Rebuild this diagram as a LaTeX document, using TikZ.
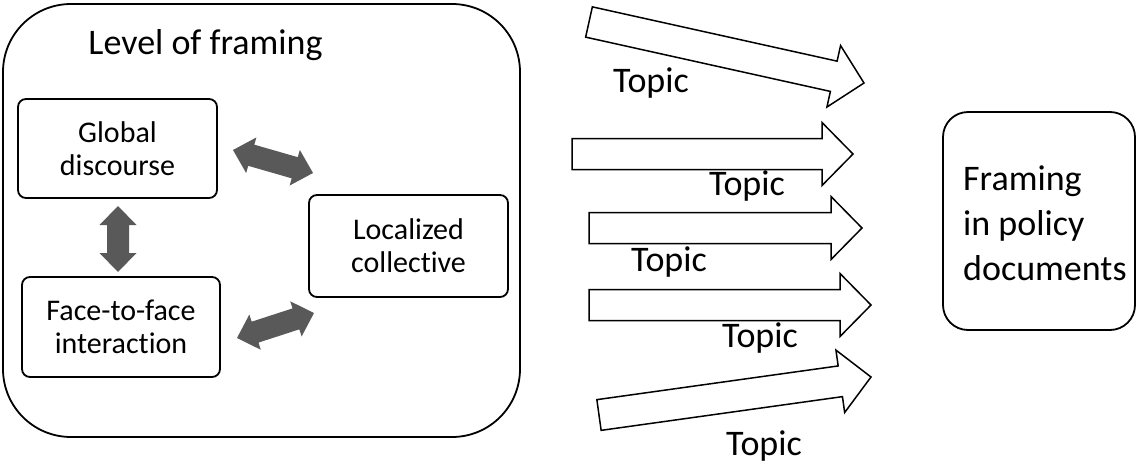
\documentclass[tikz,border=0pt]{standalone}
\usepackage{fontspec}
\setmainfont{Carlito}[Ligatures=NoCommon]
\usetikzlibrary{calc}
\definecolor{arrowgray}{HTML}{595959}
\newcommand{\twohead}[2]{%
  \coordinate (ba) at ($(#1)!19pt!(#2)$);
  \coordinate (bb) at ($(#2)!19pt!(#1)$);
  \fill[dbl] (#1) -- ($(ba)!18.5pt!90:(#2)$) -- ($(ba)!11pt!90:(#2)$)
    -- ($(bb)!11pt!-90:(#1)$) -- ($(bb)!18.5pt!-90:(#1)$) -- (#2)
    -- ($(bb)!18.5pt!90:(#1)$) -- ($(bb)!11pt!90:(#1)$)
    -- ($(ba)!11pt!-90:(#2)$) -- ($(ba)!18.5pt!-90:(#2)$) -- cycle;}
\newcommand{\onehead}[2]{%
  \coordinate (hb) at ($(#2)!31pt!(#1)$);
  \draw[hollow] ($(#1)!15.5pt!90:(#2)$) -- ($(hb)!15.5pt!90:(#2)$)
    -- ($(hb)!31.5pt!90:(#2)$) -- (#2) -- ($(hb)!31.5pt!-90:(#2)$)
    -- ($(hb)!15.5pt!-90:(#2)$) -- ($(#1)!15.5pt!-90:(#2)$) -- cycle;}
\begin{document}
\begin{tikzpicture}[x=1pt,y=-1pt,
  box/.style={draw, line width=1.8pt, rounded corners=8pt, align=center,
    font=\fontsize{30}{33}\selectfont, inner sep=0pt},
  dbl/.style={fill=arrowgray, draw=none},
  hollow/.style={draw, fill=white, line width=1.5pt, line join=miter},
  lbl/.style={font=\fontsize{36}{43}\selectfont, anchor=base, inner sep=0pt}]
\useasboundingbox (0,0) rectangle (1140,466);
\fill[white] (0,0) rectangle (1140,466);

% outer frame
\node[draw, line width=1.8pt, rounded corners=68pt, minimum width=517pt,
  minimum height=433pt, inner sep=0pt] (frame) at (261.5,220.5) {};
\node[lbl] (title) at (205.5,54) {Level of framing};

% inner boxes
\node[box, minimum width=199pt, minimum height=99pt] (global) at (117.5,148.5) {Global\\discourse};
\node[box, minimum width=199pt, minimum height=102pt] (local) at (408.5,246) {Localized\\collective};
\node[box, minimum width=198pt, minimum height=100pt] (face) at (121,327) {Face-to-face\\interaction};

% right box
\node[draw, line width=1.8pt, rounded corners=25pt, minimum width=192pt,
  minimum height=218pt, inner sep=0pt] (policy) at (1039,221) {};
\node[anchor=west, inner sep=0pt, align=left,
  font=\fontsize{36}{45}\selectfont] (policytext) at (963,223) {Framing\\in policy\\documents};

% double arrows
\coordinate (ga1) at (233,150); \coordinate (ga2) at (313,173);
\coordinate (gf1) at (118,206); \coordinate (gf2) at (118,272);
\coordinate (fl1) at (237,338); \coordinate (fl2) at (314,313);
\twohead{ga1}{ga2}
\twohead{gf1}{gf2}
\twohead{fl1}{fl2}

% hollow arrows
\coordinate (t1) at (589,22);  \coordinate (p1) at (864,83);
\coordinate (t2) at (572,154); \coordinate (p2) at (853,154);
\coordinate (t3) at (589,228); \coordinate (p3) at (862,228);
\coordinate (t4) at (589,305); \coordinate (p4) at (871,305);
\coordinate (t5) at (599,415); \coordinate (p5) at (871,377);
\onehead{t1}{p1}
\onehead{t2}{p2}
\onehead{t3}{p3}
\onehead{t4}{p4}
\onehead{t5}{p5}

% labels
\node[lbl] (topic1) at (651,92) {Topic};
\node[lbl] (topic2) at (747,195) {Topic};
\node[lbl] (topic3) at (669,271) {Topic};
\node[lbl] (topic4) at (760,347) {Topic};
\node[lbl] (topic5) at (764,455) {Topic};
\end{tikzpicture}
\end{document}
